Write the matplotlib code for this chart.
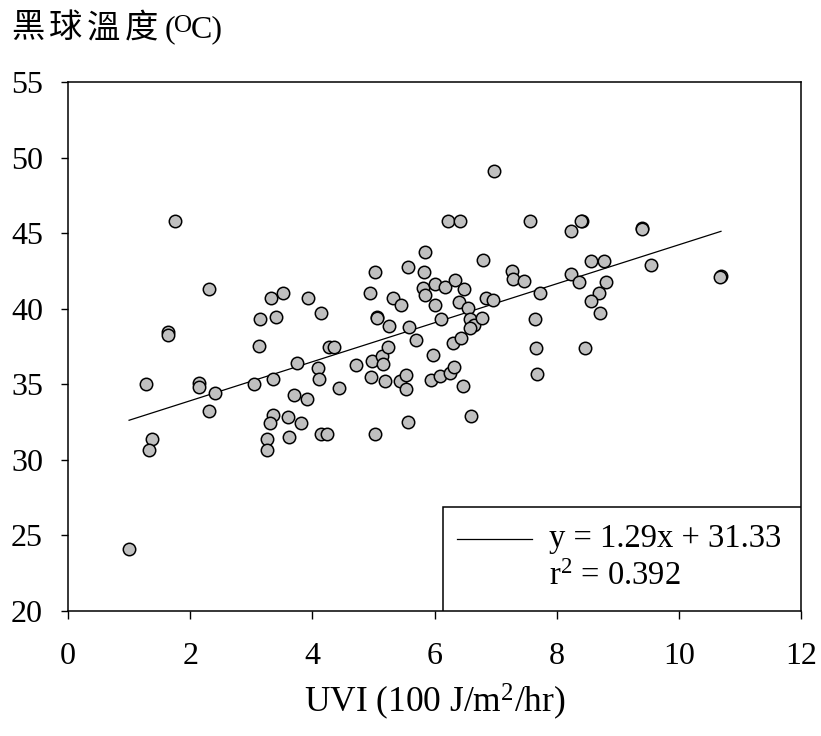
import numpy as np
import matplotlib
matplotlib.use("Agg")
import matplotlib.pyplot as plt
from matplotlib.lines import Line2D
from matplotlib.patches import Rectangle

plt.rcParams['font.family'] = ['Liberation Serif', 'DejaVu Serif']
plt.rcParams['mathtext.fontset'] = 'custom'
plt.rcParams['mathtext.rm'] = 'Liberation Serif'
plt.rcParams['mathtext.it'] = 'Liberation Serif:italic'
plt.rcParams['mathtext.default'] = 'rm'

# UVI (100 J/m2/hr) vs globe temperature (oC)
uvi = [1.00, 1.27, 1.38, 1.33, 1.63, 1.63, 1.75, 2.14, 2.15, 2.40,
       2.31, 2.31, 3.12, 3.05, 3.36, 3.75, 3.70, 3.91, 3.36, 3.30,
       3.60, 3.81, 3.26, 3.25, 3.62, 4.15, 4.24, 3.15, 3.40, 3.32,
       3.52, 3.93, 4.14, 4.09, 4.11, 4.44, 4.28, 4.35, 4.72, 4.97,
       5.14, 5.15, 5.24, 5.25, 5.58, 5.70, 4.96, 5.19, 5.43, 5.53,
       5.54, 5.03, 5.56, 5.97, 5.95, 6.09, 6.25, 6.32, 6.46, 6.60,
       6.31, 6.44, 7.66, 7.68, 6.97, 6.22, 6.41, 7.57, 5.84, 5.56,
       5.03, 5.83, 6.80, 7.27, 7.28, 7.46, 7.73, 7.65, 4.95, 5.32,
       5.45, 5.06, 5.06, 5.81, 5.84, 6.00, 6.18, 6.33, 6.48, 6.00,
       6.40, 6.55, 6.10, 6.58, 6.64, 6.78, 6.85, 6.96, 6.58, 8.41,
       8.40, 8.23, 9.40, 9.39, 8.57, 8.78, 9.55, 10.69, 10.68, 8.24,
       8.36, 8.81, 8.69, 8.56, 8.71, 8.46]
globe_temp = [24.12, 35.02, 31.39, 30.64, 38.44, 38.29, 45.80, 35.11, 34.79, 34.40,
              33.25, 41.32, 37.56, 35.02, 35.33, 36.39, 34.26, 34.05, 32.94, 32.41,
              32.85, 32.41, 31.39, 30.64, 31.48, 31.68, 31.68, 39.35, 39.42, 40.70,
              41.05, 40.70, 39.70, 36.05, 35.35, 34.75, 37.45, 37.45, 36.28, 36.57,
              36.90, 36.35, 37.47, 38.84, 38.78, 37.90, 35.47, 35.24, 35.19, 35.64,
              34.66, 31.70, 32.52, 36.94, 35.29, 35.52, 35.75, 36.12, 34.86, 32.88,
              37.74, 38.07, 37.40, 35.68, 49.12, 45.80, 45.80, 45.80, 43.77, 42.78,
              42.42, 42.42, 43.24, 42.51, 41.98, 41.85, 41.05, 39.31, 41.03, 40.68,
              40.24, 39.44, 39.38, 41.36, 40.92, 41.65, 41.43, 41.87, 41.32, 40.24,
              40.44, 40.08, 39.33, 39.33, 38.95, 39.40, 40.72, 40.59, 38.73, 45.83,
              45.80, 45.14, 45.32, 45.30, 43.18, 43.15, 42.87, 42.14, 42.12, 42.27,
              41.74, 41.76, 41.03, 40.48, 39.70, 37.41]

# linear fit reported on the chart
slope = 1.29
intercept = 31.33
r2 = 0.392

x_ticks = [0, 2, 4, 6, 8, 10, 12]
y_ticks = [20, 25, 30, 35, 40, 45, 50, 55]

fig = plt.figure(figsize=(8.21, 7.36), dpi=100)
ax = fig.add_axes([68 / 821, 1 - 611 / 736, 733 / 821, 529 / 736])

ax.scatter(uvi, globe_temp, s=80, facecolor='#c0c0c0', edgecolor='black',
           linewidth=1.1, zorder=3)

xs = np.array([min(uvi), max(uvi)])
ax.plot(xs, slope * xs + intercept, color='black', linewidth=0.9, zorder=2)

ax.set_xlim(0, 12)
ax.set_ylim(20, 55)
ax.set_xticks(x_ticks)
ax.set_yticks(y_ticks)
ax.tick_params(axis='both', direction='out', labelsize=23, width=1, color='black')
ax.tick_params(axis='x', length=6, pad=16)
ax.tick_params(axis='y', length=5, pad=13)
for sp in ax.spines.values():
    sp.set_linewidth(1.1)

ax.set_xlabel('UVI (100 J/m$^2$/hr)', fontsize=25.5, labelpad=8)

# fit box in the lower right corner
ax.add_patch(Rectangle((0.5116, 0), 0.4884, 0.1966, transform=ax.transAxes,
                       facecolor='white', edgecolor='black', linewidth=1.1, zorder=4))
ax.add_line(Line2D([0.5307, 0.633], [0.136, 0.136], transform=ax.transAxes,
                   color='black', linewidth=0.9, zorder=5))
ax.text(0.656, 0.136, f'y = {slope:.2f}x + {intercept:.2f}', transform=ax.transAxes,
        fontsize=23.5, va='center', ha='left', zorder=5)
ax.text(0.656, 0.064, f'r$^2$ = {r2:.3f}', transform=ax.transAxes,
        fontsize=23.5, va='center', ha='left', zorder=5)

# y axis title: CJK characters spaced out, then (oC) with raised O
base_y = 1 - 37 / 736
for i, ch in enumerate('黑球溫度'):
    fig.text((11 + i * 38) / 821, base_y, ch, fontsize=24, va='baseline',
             family=['Noto Sans CJK TC', 'DejaVu Sans'])
fig.text(165 / 821, base_y, '(', fontsize=23, va='baseline')
fig.text(174 / 821, 1 - 32 / 736, 'O', fontsize=18, va='baseline')
fig.text(191 / 821, base_y, 'C)', fontsize=23, va='baseline')

fig.savefig('out.png', dpi=100)
